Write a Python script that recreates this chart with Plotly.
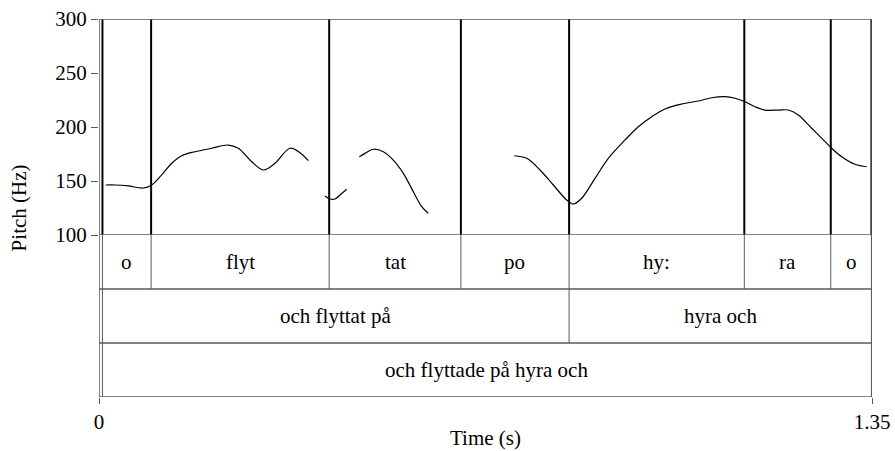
import plotly.graph_objects as go

# pitch contour pieces (time in s, pitch in Hz)
seg1_t = [0.0117, 0.0279, 0.0512, 0.0774, 0.0920, 0.1095, 0.1270, 0.1444, 0.1677, 0.1968,
          0.2258, 0.2433, 0.2667, 0.2870, 0.3074, 0.3336, 0.3510, 0.3655]
seg1_hz = [146.3, 146.3, 145.4, 143.5, 146.3, 155.6, 166.4, 173.4, 177.1, 180.3,
           183.3, 180.3, 167.9, 160.2, 166.4, 180.3, 176.2, 168.8]

seg2_t = [0.3947, 0.4034, 0.4122, 0.4209, 0.4326]
seg2_hz = [136.1, 133.3, 133.3, 137.0, 142.3]

seg3_t = [0.4546, 0.4646, 0.4791, 0.4965, 0.5140, 0.5315, 0.5489, 0.5636, 0.5751]
seg3_hz = [172.5, 175.6, 179.4, 177.1, 169.4, 157.1, 140.1, 126.2, 120.1]

seg4_t = [0.7253, 0.7470, 0.7702, 0.7934, 0.8168, 0.8284, 0.8430, 0.8663, 0.8895, 0.9187,
          0.9419, 0.9653, 0.9885, 1.0177, 1.0467, 1.0701, 1.0933, 1.1108, 1.1282, 1.1457,
          1.1631, 1.1864, 1.2038, 1.2213, 1.2447, 1.2680, 1.2796, 1.2971, 1.3203, 1.3408]
seg4_hz = [173.4, 171.0, 160.2, 146.3, 132.4, 128.7, 134.0, 152.5, 171.0, 188.0,
           200.3, 209.5, 216.7, 221.3, 224.1, 227.1, 228.1, 226.6, 223.4, 218.8,
           215.7, 215.7, 215.7, 211.1, 198.8, 186.4, 180.3, 172.5, 165.5, 163.2]

# text grid tiers
phone_bounds = [0.006, 0.091, 0.402, 0.632, 0.821, 1.127, 1.278, 1.349]
phone_labels = ["o", "flyt", "tat", "po", "hy:", "ra", "o"]
word_bounds = [0.006, 0.821, 1.349]
word_labels = ["och flyttat på", "hyra och"]
phrase_bounds = [0.006, 1.349]
phrase_labels = ["och flyttade på hyra och"]

x_ticks = [0, 1.35]
y_ticks = [100, 150, 200, 250, 300]

FONT = "Liberation Serif"
FRAME = "#5a5a5a"
PITCH_TOP = 1 - 216 / 378  # pitch panel takes 216 of the 378 px plot height

fig = go.Figure()
for t, hz in [(seg1_t, seg1_hz), (seg2_t, seg2_hz), (seg3_t, seg3_hz), (seg4_t, seg4_hz)]:
    fig.add_trace(go.Scatter(x=t, y=hz, mode="lines", line=dict(color="black", width=1.2, shape="spline"),
                             hoverinfo="skip", showlegend=False))

shapes = []
# tier boundaries: black through the pitch panel, thin grey inside the tiers
for b in phone_bounds:
    shapes.append(dict(type="line", xref="x", yref="y", x0=b, x1=b, y0=100, y1=300,
                       line=dict(color="black", width=2)))
tiers = [(phone_bounds, phone_labels, 2), (word_bounds, word_labels, 1), (phrase_bounds, phrase_labels, 0)]
annotations = []
for bounds, labels, lo in tiers:
    for b in bounds:
        shapes.append(dict(type="line", xref="x", yref="y2", x0=b, x1=b, y0=lo, y1=lo + 1,
                           line=dict(color=FRAME, width=1)))
    for i, lab in enumerate(labels):
        annotations.append(dict(x=(bounds[i] + bounds[i + 1]) / 2, y=lo + 0.5, xref="x", yref="y2",
                                text=lab, showarrow=False, font=dict(family=FONT, size=21, color="black")))

# frame
for yv, ref in [(300, "y"), (100, "y"), (2, "y2"), (1, "y2"), (0, "y2")]:
    shapes.append(dict(type="line", xref="x", yref=ref, x0=0, x1=1.35, y0=yv, y1=yv,
                       line=dict(color=FRAME, width=1.5)))
for xv in [0, 1.35]:
    shapes.append(dict(type="line", xref="x", yref="paper", x0=xv, x1=xv, y0=0, y1=1,
                       line=dict(color=FRAME, width=1.5)))

annotations.append(dict(text="Pitch (Hz)", x=-0.103, y=0.5, xref="paper", yref="paper", textangle=-90,
                        xanchor="center", yanchor="middle",
                        showarrow=False, font=dict(family=FONT, size=21, color="black")))
annotations.append(dict(text="Time (s)", x=0.5, y=-0.1085, xref="paper", yref="paper",
                        xanchor="center", yanchor="middle",
                        showarrow=False, font=dict(family=FONT, size=21, color="black")))

fig.update_layout(
    width=895, height=451,
    margin=dict(l=99, r=23, t=19, b=54, autoexpand=False),
    paper_bgcolor="white", plot_bgcolor="white",
    shapes=shapes, annotations=annotations,
    xaxis=dict(range=[0, 1.35], anchor="y2", showgrid=False, zeroline=False, showline=False,
               automargin=False, ticklabeloverflow="allow",
               tickvals=x_ticks, ticktext=["0", "1.35"], ticks="outside", ticklen=6, tickcolor=FRAME,
               tickfont=dict(family=FONT, size=21, color="black")),
    yaxis=dict(domain=[PITCH_TOP, 1], range=[100, 300], showgrid=False, zeroline=False, showline=False,
               automargin=False, ticklabeloverflow="allow",
               tickvals=y_ticks, ticks="outside", ticklen=7, tickcolor=FRAME,
               tickfont=dict(family=FONT, size=21, color="black")),
    yaxis2=dict(domain=[0, PITCH_TOP], range=[0, 3], visible=False, showgrid=False, automargin=False),
)

# drop the default 8px body margin so the figure fills the window exactly
fig.write_html("out.html", config={"displayModeBar": False},
               post_script="document.body.style.margin = '0';")
